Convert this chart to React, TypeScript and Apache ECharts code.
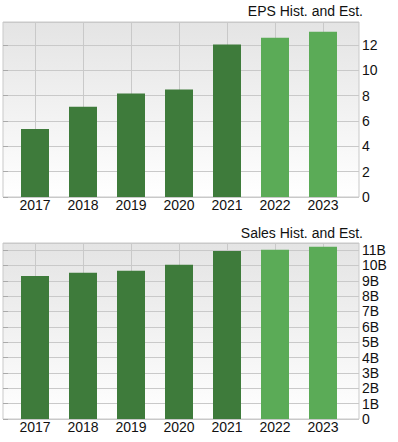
import React, { useEffect, useRef } from "react";
import * as echarts from "echarts";

const years = ["2017", "2018", "2019", "2020", "2021", "2022", "2023"];
const epsValues = [5.37, 7.11, 8.16, 8.47, 12.03, 12.55, 13.03];
const salesValues = [9.31e9, 9.52e9, 9.65e9, 10.05e9, 10.94e9, 11.02e9, 11.22e9];
const estimateFrom = 5; // index of first estimated year
const epsTitle = "EPS Hist. and Est.";
const salesTitle = "Sales Hist. and Est.";

const DARK = "#3e7b3b";
const LIGHT = "#5bab57";
const GRID_LINE = "#c9c9c9";
const FONT = "Liberation Sans, Arial, sans-serif";

function barData(vals: number[]) {
  return vals.map((v, i) => ({
    value: v,
    itemStyle: { color: i >= estimateFrom ? LIGHT : DARK },
  }));
}

export default function App() {
  const ref = useRef<HTMLDivElement>(null);
  useEffect(() => {
    if (!ref.current) return;
    const chart = echarts.init(ref.current, null, { renderer: "svg" });
    const bg = {
      type: "linear",
      x: 0,
      y: 0,
      x2: 0,
      y2: 1,
      colorStops: [
        { offset: 0, color: "#e4e4e4" },
        { offset: 1, color: "#ffffff" },
      ],
    };
    const charts = [
      { top: 22, height: 175, max: 13.8, interval: 2, vals: epsValues, fmt: (v: number) => String(v) },
      {
        top: 243,
        height: 176,
        max: 11.46e9,
        interval: 1e9,
        vals: salesValues,
        fmt: (v: number) => (v === 0 ? "0" : Math.round(v / 1e9) + "B"),
      },
    ];
    const grid: any[] = [];
    const xAxis: any[] = [];
    const yAxis: any[] = [];
    const series: any[] = [];
    charts.forEach((c, k) => {
      const gBg = k * 2;
      const gBar = k * 2 + 1;
      grid.push({
        left: 3,
        width: 356,
        top: c.top,
        height: c.height,
        show: true,
        backgroundColor: bg,
        borderColor: GRID_LINE,
        borderWidth: 1,
      });
      grid.push({ left: 35, width: 288, top: c.top, height: c.height });
      xAxis.push({ type: "value", gridIndex: gBg, show: false, min: 0, max: 1 });
      xAxis.push({
        type: "category",
        gridIndex: gBar,
        data: years,
        boundaryGap: false,
        axisLine: { show: false },
        axisTick: { show: false },
        axisLabel: { interval: 0, fontSize: 14, fontFamily: FONT, color: "#111", margin: 1 },
        splitLine: { show: true, interval: 0, lineStyle: { color: GRID_LINE, width: 1 } },
      });
      yAxis.push({
        type: "value",
        gridIndex: gBg,
        position: "right",
        min: 0,
        max: c.max,
        interval: c.interval,
        axisLine: { show: false },
        axisTick: { show: true, length: 5, lineStyle: { color: "#aaa" } },
        axisLabel: {
          showMaxLabel: false,
          fontSize: 14,
          fontFamily: FONT,
          color: "#111",
          margin: 3,
          formatter: c.fmt,
        },
        splitLine: { show: true, lineStyle: { color: GRID_LINE, width: 1 } },
      });
      yAxis.push({ type: "value", gridIndex: gBar, show: false, min: 0, max: c.max });
      series.push({
        type: "bar",
        xAxisIndex: gBar,
        yAxisIndex: gBar,
        data: barData(c.vals),
        barWidth: 28,
        clip: false,
      });
    });
    chart.setOption({
      animation: false,
      title: [
        {
          text: epsTitle,
          right: 35,
          top: 4,
          padding: 0,
          textStyle: { fontSize: 14, fontWeight: "normal", fontFamily: FONT, color: "#111" },
        },
        {
          text: salesTitle,
          right: 35,
          top: 226,
          padding: 0,
          textStyle: { fontSize: 14, fontWeight: "normal", fontFamily: FONT, color: "#111" },
        },
      ],
      grid,
      xAxis,
      yAxis,
      series,
    });
    return () => chart.dispose();
  }, []);
  return (
    <div
      ref={ref}
      style={{ position: "fixed", left: 0, top: 0, width: 398, height: 442, background: "#fff" }}
    />
  );
}
